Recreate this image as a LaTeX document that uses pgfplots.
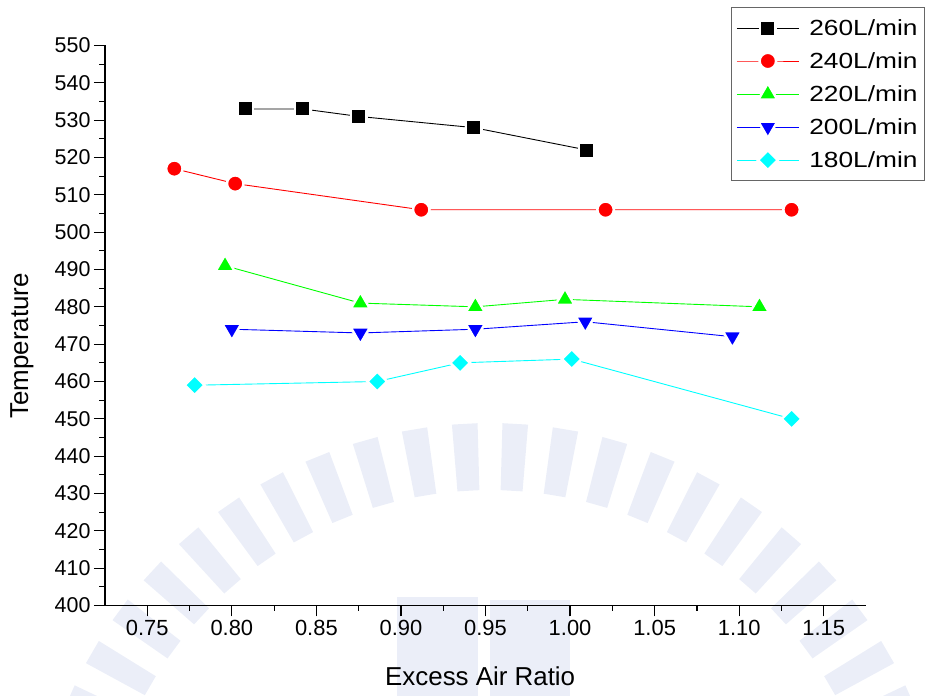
\documentclass[border=0pt]{standalone}
\usepackage{fontspec}
\setmainfont{Liberation Sans}
\newfontfamily\widesans[FakeStretch=1.2]{Liberation Sans}
\usepackage{pgfplots}
\pgfplotsset{compat=1.18}

\definecolor{seal}{RGB}{235,238,248}
\definecolor{aqua}{RGB}{0,255,255}
\definecolor{lime}{RGB}{0,255,0}

\begin{document}
\begin{tikzpicture}[x=1bp,y=1bp]
\useasboundingbox (-105,-90.5) rectangle (820,605.5);
% faint seal behind the plot
\begin{scope}
  \clip (-105,-90.5) rectangle (820,605.5);
  \foreach \a in {-72.45,-66.15,...,72.5} {
    \fill[seal, shift={(385,-277.5)}]
      (90+\a-1.6:393) -- (90+\a-1.6:460) -- (90+\a+1.6:460) -- (90+\a+1.6:393) -- cycle;
  }
  \fill[seal] (292,8) rectangle (373,-95);
  \fill[seal] (385,5) rectangle (465,-95);
\end{scope}

\begin{axis}[
  at={(0,0)}, anchor=south west,
  scale only axis, width=761bp, height=560bp,
  xmin=0.725, xmax=1.175, ymin=400, ymax=550,
  axis lines*=left,
  axis line style={line width=1.4bp},
  xtick={0.75,0.80,0.85,0.90,0.95,1.00,1.05,1.10,1.15},
  ytick={400,410,420,430,440,450,460,470,480,490,500,510,520,530,540,550},
  minor x tick num=1, minor y tick num=1,
  tick align=outside,
  major tick length=11bp, minor tick length=5.5bp,
  every tick/.style={line width=1.2bp, black},
  /pgf/number format/assume math mode=true,
  x tick label style={/pgf/number format/.cd, fixed, fixed zerofill, precision=2, /tikz/.cd,
    font=\fontsize{22}{22}\selectfont},
  y tick label style={font=\fontsize{21.5}{21.5}\selectfont},
  xlabel={Excess Air Ratio}, ylabel={Temperature},
  label style={font=\fontsize{26}{26}\selectfont},
  xlabel style={at={(axis description cs:0.493,-0.1259)}, anchor=center},
  ylabel style={at={(axis description cs:-0.1091,0.4634)}, anchor=center},
  every axis plot/.append style={line width=0.9bp},
  legend style={at={(axis description cs:1.0775,1.0688)}, anchor=north east,
    draw=black!60, line width=1bp, font=\widesans\fontsize{22}{22}\selectfont,
    inner xsep=5bp, inner ysep=10bp, row sep=11.5bp, column sep=8bp,
    cells={anchor=west}},
  legend cell align=left,
  legend image code/.code={\draw[mark repeat=2,mark phase=2] plot coordinates {(0bp,0bp) (31bp,0bp) (62bp,0bp)};},
]
\addplot[black, mark=square*, mark size=7.75bp,
  mark options={solid, fill=black, draw=white, line width=2.5bp}]
  coordinates {(0.808,533) (0.842,533) (0.875,531) (0.943,528) (1.010,522)};
\addlegendentry{260L/min}
\addplot[red, mark=*, mark size=8.25bp,
  mark options={solid, fill=red, draw=white, line width=2.5bp}]
  coordinates {(0.766,517) (0.802,513) (0.912,506) (1.021,506) (1.131,506)};
\addlegendentry{240L/min}
\addplot[lime, mark=triangle*, mark size=11bp,
  mark options={solid, fill=lime, draw=white, line width=2.5bp}]
  coordinates {(0.796,491) (0.876,481) (0.944,480) (0.997,482) (1.112,480)};
\addlegendentry{220L/min}
\addplot[blue, mark=triangle*, mark size=11bp,
  mark options={solid, fill=blue, draw=white, line width=2.5bp, rotate=180}]
  coordinates {(0.800,474) (0.876,473) (0.944,474) (1.009,476) (1.096,472)};
\addlegendentry{200L/min}
\addplot[aqua, mark=square*, mark size=7bp,
  mark options={solid, fill=aqua, draw=white, line width=2.5bp, rotate=45}]
  coordinates {(0.778,459) (0.886,460) (0.935,465) (1.001,466) (1.131,450)};
\addlegendentry{180L/min}
\end{axis}
\end{tikzpicture}
\end{document}
